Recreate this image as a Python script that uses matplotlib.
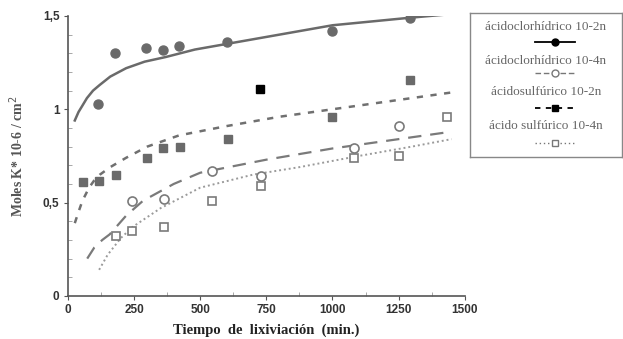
import matplotlib.pyplot as plt
from matplotlib.lines import Line2D
from matplotlib.ticker import MultipleLocator, FuncFormatter

# measured points
hcl2_x = [113, 177, 295, 358, 420, 602, 1000, 1294]
hcl2_y = [1.03, 1.30, 1.33, 1.32, 1.34, 1.36, 1.42, 1.49]

hcl4_x = [242, 362, 545, 730, 1080, 1253]
hcl4_y = [0.51, 0.52, 0.67, 0.64, 0.79, 0.91]

so2_x = [57, 117, 180, 300, 360, 422, 604, 1000, 1294]
so2_y = [0.61, 0.615, 0.65, 0.74, 0.79, 0.80, 0.84, 0.96, 1.155]
so2_out_x = [725]
so2_out_y = [1.11]

so4_x = [180, 241, 362, 545, 728, 1080, 1253, 1434]
so4_y = [0.32, 0.35, 0.37, 0.51, 0.59, 0.74, 0.75, 0.96]

# trend curves
fit_hcl2_x = [26, 40, 55, 72, 95, 120, 160, 220, 290, 370, 480, 600, 800, 1000, 1290, 1450]
fit_hcl2_y = [0.94, 0.985, 1.02, 1.06, 1.10, 1.13, 1.175, 1.22, 1.255, 1.28, 1.32, 1.35, 1.40, 1.45, 1.49, 1.51]

fit_so2_x = [26, 40, 55, 80, 100, 121, 160, 220, 300, 420, 600, 800, 1000, 1250, 1450]
fit_so2_y = [0.39, 0.45, 0.51, 0.58, 0.62, 0.65, 0.69, 0.74, 0.80, 0.86, 0.91, 0.96, 1.00, 1.05, 1.09]

fit_hcl4_x = [73, 100, 130, 158, 220, 284, 400, 500, 750, 1000, 1250, 1450]
fit_hcl4_y = [0.20, 0.26, 0.30, 0.33, 0.43, 0.51, 0.60, 0.66, 0.73, 0.79, 0.84, 0.88]

fit_so4_x = [118, 150, 200, 245, 350, 500, 700, 875, 1100, 1300, 1450]
fit_so4_y = [0.14, 0.22, 0.31, 0.37, 0.47, 0.58, 0.65, 0.69, 0.75, 0.80, 0.84]

labels = ['ácidoclorhídrico 10-2n', 'ácidoclorhídrico 10-4n',
          'ácidosulfúrico 10-2n', 'ácido sulfúrico 10-4n']

fig = plt.figure(figsize=(6.23, 3.39), dpi=100)
ax = fig.add_axes([0.109, 0.127, 0.637, 0.826])

ax.plot(fit_hcl2_x, fit_hcl2_y, '-', color='#6a6a6a', lw=1.8)
ax.plot(fit_so2_x, fit_so2_y, linestyle=(0, (2.5, 3)), color='#707070', lw=1.8)
ax.plot(fit_hcl4_x, fit_hcl4_y, linestyle=(0, (6, 4)), color='#7a7a7a', lw=1.6)
ax.plot(fit_so4_x, fit_so4_y, linestyle=(0, (1, 1.5)), color='#9a9a9a', lw=1.4)

ax.plot(hcl2_x, hcl2_y, 'o', color='#6a6a6a', ms=6.5, ls='none')
ax.plot(so2_x, so2_y, 's', color='#6a6a6a', ms=5.5, ls='none')
ax.plot(so2_out_x, so2_out_y, 's', color='black', ms=5.5, ls='none')
ax.plot(hcl4_x, hcl4_y, 'o', mfc='white', mec='#7a7a7a', mew=1.2, ms=6.5, ls='none')
ax.plot(so4_x, so4_y, 's', mfc='white', mec='#7a7a7a', mew=1.2, ms=6, ls='none')

ax.set_xlim(0, 1500)
ax.set_ylim(0, 1.5)
ax.set_xticks([0, 250, 500, 750, 1000, 1250, 1500])
ax.set_yticks([0, 0.5, 1, 1.5])
ax.xaxis.set_minor_locator(MultipleLocator(125))
ax.yaxis.set_minor_locator(MultipleLocator(0.1))
ax.yaxis.set_major_formatter(FuncFormatter(lambda v, p: ('%g' % v).replace('.', ',')))
for s in ['top', 'right']:
    ax.spines[s].set_visible(False)
for s in ['left', 'bottom']:
    ax.spines[s].set_color('#555555')
    ax.spines[s].set_linewidth(1.2)
ax.tick_params(which='major', direction='out', length=3, pad=3, color='#555555',
               labelsize=8.5, labelcolor='#333333')
ax.tick_params(which='minor', direction='in', length=3, color='#999999')
for t in ax.get_xticklabels() + ax.get_yticklabels():
    t.set_fontweight('bold')
    t.set_family('Liberation Sans')

ax.set_xlabel('Tiempo  de  lixiviación  (min.)', family='Liberation Serif',
              fontweight='bold', fontsize=10.5, color='#222222', labelpad=5)
ax.set_ylabel('Moles K* 10-6 / cm$^{2}$', family='Liberation Serif',
              fontweight='bold', fontsize=10, color='#555555', labelpad=12)

# legend panel, label above each handle
lg = fig.add_axes([470 / 623, 1 - 157 / 339, 152 / 623, 144 / 339])
lg.set_xlim(0, 1)
lg.set_ylim(0, 1)
lg.set_xticks([])
lg.set_yticks([])
for s in lg.spines.values():
    s.set_color('#888888')
    s.set_linewidth(1.0)

text_y = [0.90, 0.665, 0.45, 0.215]
hand_y = [0.80, 0.585, 0.34, 0.10]
styles = [
    dict(ls='-', marker='o', color='black', mfc='black', lw=1.3, ms=5),
    dict(ls=(0, (4, 2)), marker='o', color='#777777', mfc='white', lw=1.0, ms=5),
    dict(ls=(0, (3, 3)), marker='s', color='black', mfc='black', lw=1.3, ms=4.5),
    dict(ls=(0, (1, 2)), marker='s', color='#777777', mfc='white', lw=1.0, ms=5),
]
for lab, ty, hy, st in zip(labels, text_y, hand_y, styles):
    lg.text(0.5, ty, lab, ha='center', va='center', family='Liberation Serif',
            fontsize=9.5, color='#666666')
    lg.add_line(Line2D([0.43, 0.69], [hy, hy], ls=st['ls'], color=st['color'], lw=st['lw']))
    lg.add_line(Line2D([0.56], [hy], ls='none', marker=st['marker'], mfc=st['mfc'],
                       mec=st['color'], ms=st['ms']))

fig.savefig('out.png', dpi=100)
